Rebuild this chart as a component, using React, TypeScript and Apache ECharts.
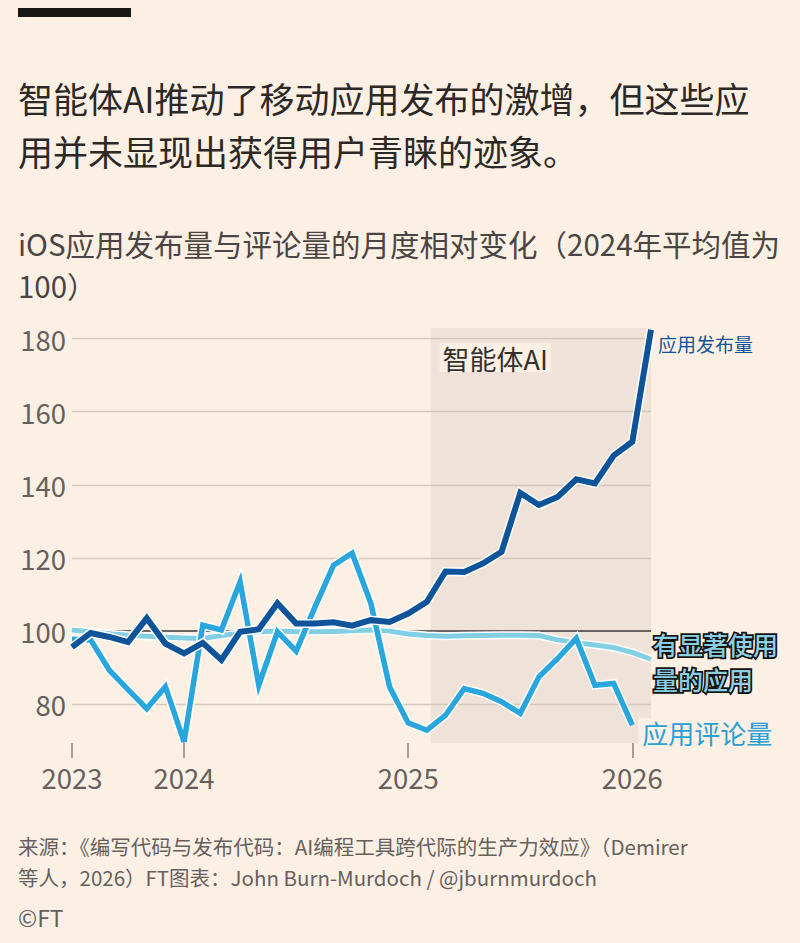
import React, { useEffect, useRef } from "react";
import * as echarts from "echarts";

// Monthly index values (2024 average = 100), July 2023 – February 2026
const months = [
  "2023-07", "2023-08", "2023-09", "2023-10", "2023-11", "2023-12",
  "2024-01", "2024-02", "2024-03", "2024-04", "2024-05", "2024-06",
  "2024-07", "2024-08", "2024-09", "2024-10", "2024-11", "2024-12",
  "2025-01", "2025-02", "2025-03", "2025-04", "2025-05", "2025-06",
  "2025-07", "2025-08", "2025-09", "2025-10", "2025-11", "2025-12",
  "2026-01", "2026-02",
];

// 应用发布量
const releases = [
  95.6, 99.5, 98.4, 97.0, 103.5, 96.6, 93.9, 96.8, 92.1, 99.8, 100.5, 107.6,
  102.1, 102.1, 102.4, 101.5, 103.0, 102.5, 104.8, 108.0, 116.3, 116.2, 118.5, 121.7,
  137.8, 134.5, 136.7, 141.5, 140.4, 148.0, 151.8, 182.4,
];

// 应用评论量
const reviews = [
  97.8, 97.6, 89.3, 84.0, 78.8, 84.8, 69.7, 101.6, 100.3, 113.5, 85.2, 99.8,
  94.5, 106.5, 118.0, 121.3, 107.6, 84.8, 74.9, 72.9, 77.0, 84.3, 83.0, 80.7,
  77.5, 87.5, 92.5, 98.0, 85.2, 85.7, 74.3,
];

// 有显著使用量的应用
const usage = [
  100.3, 99.8, 99.3, 98.9, 98.6, 98.3, 98.1, 98.0, 98.8, 99.4, 99.8, 100.0,
  99.8, 99.8, 99.9, 100.1, 100.3, 100.0, 99.2, 98.8, 98.6, 98.7, 98.8, 98.9,
  98.9, 98.8, 97.6, 96.8, 96.2, 95.5, 94.2, 92.3,
];

const gridValues = [80, 100, 120, 140, 160, 180];
const yearTickMonths = ["2023-07", "2024-01", "2025-01", "2026-01"];
// 智能体AI period, in months since July 2023
const agentSpan = [19.2, 31];

const BG = "#fcf0e5";
const FONT = "'Noto Sans CJK SC', 'Noto Sans', sans-serif";
const DARK = "#0f5499";
const MID = "#2aa6dc";
const PALE = "#82cfe4";

export default function App() {
  const ref = useRef<HTMLDivElement>(null);

  useEffect(() => {
    if (!ref.current) return;
    const chart = echarts.init(ref.current, undefined, { renderer: "svg" });

    const lineBase = {
      type: "line" as const,
      showSymbol: false,
      symbol: "none",
      silent: true,
      smooth: false,
    };

    chart.setOption({
      animation: false,
      backgroundColor: BG,
      textStyle: { fontFamily: FONT },
      grid: { left: 72, right: 149, top: 328, bottom: 200 },
      xAxis: [
        {
          type: "category",
          data: months,
          boundaryGap: false,
          axisLine: { show: false },
          axisTick: {
            show: true,
            length: 15,
            interval: (_i: number, v: string) => yearTickMonths.includes(v),
            lineStyle: { color: "#8a827c", width: 1.5 },
          },
          axisLabel: {
            interval: (_i: number, v: string) => yearTickMonths.includes(v),
            formatter: (v: string) => v.slice(0, 4),
            color: "#66605c",
            fontSize: 27.5,
            margin: 20,
            fontFamily: FONT,
          },
          splitLine: { show: false },
        },
        {
          // month-index axis over the same span, used for the shaded period
          type: "value",
          min: 0,
          max: months.length - 1,
          show: false,
          splitLine: { show: false },
        },
      ],
      yAxis: {
        type: "value",
        min: 69.4,
        max: 182.9,
        axisLine: { show: false },
        axisTick: { show: false },
        axisLabel: { show: false },
        splitLine: { show: false },
      },
      graphic: [
        { type: "rect", shape: { x: 18, y: 8, width: 113, height: 9 }, style: { fill: "#1a1817" } },
        {
          type: "text", x: 18, y: 97,
          style: { text: "智能体AI推动了移动应用发布的激增，但这些应", fill: "#2b2826", fontSize: 35, fontFamily: FONT, verticalAlign: "middle" },
        },
        {
          type: "text", x: 18, y: 150,
          style: { text: "用并未显现出获得用户青睐的迹象。", fill: "#2b2826", fontSize: 35, fontFamily: FONT, verticalAlign: "middle" },
        },
        {
          type: "text", x: 18, y: 243,
          style: { text: "iOS应用发布量与评论量的月度相对变化（2024年平均值为", fill: "#4a4542", fontSize: 29.5, fontFamily: FONT, verticalAlign: "middle" },
        },
        {
          type: "text", x: 18, y: 285,
          style: { text: "100）", fill: "#4a4542", fontSize: 29.5, fontFamily: FONT, verticalAlign: "middle" },
        },
        {
          type: "text", x: 18, y: 846,
          style: { text: "来源：《编写代码与发布代码：AI编程工具跨代际的生产力效应》（Demirer", fill: "#66605c", fontSize: 20.5, fontFamily: FONT, verticalAlign: "middle" },
        },
        {
          type: "text", x: 18, y: 877,
          style: { text: "等人，2026）FT图表：John Burn-Murdoch / @jburnmurdoch", fill: "#66605c", fontSize: 20.5, fontFamily: FONT, verticalAlign: "middle" },
        },
        {
          type: "text", x: 18, y: 917,
          style: { text: "©FT", fill: "#66605c", fontSize: 23, fontFamily: FONT, verticalAlign: "middle" },
        },
      ],
      series: [
        {
          ...lineBase,
          name: "agent-period",
          xAxisIndex: 1,
          data: [],
          z: 1,
          markArea: {
            silent: true,
            itemStyle: { color: "#eee2d9" },
            label: {
              show: true,
              position: "insideTopLeft",
              formatter: "智能体AI",
              color: "#33302e",
              fontSize: 27,
              fontFamily: FONT,
              backgroundColor: BG,
              padding: [2, 3, 0, 3],
              offset: [4, 10],
            },
            data: [[{ xAxis: agentSpan[0] }, { xAxis: agentSpan[1] }]],
          },
        },
        {
          ...lineBase,
          name: "usage-halo",
          data: usage,
          z: 10,
          lineStyle: { color: "#ffffff", width: 8, join: "miter" },
          markLine: {
            silent: true,
            symbol: ["none", "none"],
            label: {
              show: true,
              position: "start",
              distance: 6,
              formatter: (p: any) => String(p.value),
              color: "#66605c",
              fontSize: 27.5,
              fontFamily: FONT,
            },
            data: gridValues.map((v) => ({
              yAxis: v,
              lineStyle: {
                type: "solid",
                color: v === 100 ? "#3d3936" : "#d2c8bf",
                width: v === 100 ? 1.6 : 1.4,
              },
            })),
          },
        },
        {
          ...lineBase,
          name: "有显著使用量的应用",
          data: usage,
          z: 11,
          lineStyle: { color: PALE, width: 5, join: "miter" },
          endLabel: {
            show: true,
            formatter: "有显著使用\n量的应用",
            color: "#8ccfe2",
            fontSize: 25,
            lineHeight: 35.5,
            fontWeight: 500,
            fontFamily: FONT,
            textBorderColor: "#141210",
            textBorderWidth: 3.5,
            distance: 2,
            offset: [0, 2],
          },
        },
        {
          ...lineBase,
          name: "reviews-halo",
          data: reviews,
          z: 12,
          lineStyle: { color: "#ffffff", width: 8.5, join: "miter" },
        },
        {
          ...lineBase,
          name: "应用评论量",
          data: reviews,
          z: 13,
          lineStyle: { color: MID, width: 5.5, join: "miter" },
          endLabel: {
            show: true,
            formatter: "应用评论量",
            color: "#2a9fd4",
            fontSize: 26,
            fontFamily: FONT,
            backgroundColor: BG,
            padding: [1, 4, 1, 4],
            distance: 6,
            offset: [0, 7],
          },
        },
        {
          ...lineBase,
          name: "releases-halo",
          data: releases,
          z: 14,
          lineStyle: { color: "#ffffff", width: 9, join: "miter" },
        },
        {
          ...lineBase,
          name: "应用发布量",
          data: releases,
          z: 15,
          lineStyle: { color: DARK, width: 6, join: "miter" },
          endLabel: {
            show: true,
            formatter: "应用发布量",
            color: DARK,
            fontSize: 19,
            fontFamily: FONT,
            distance: 5,
            offset: [2, 14],
          },
        },
      ],
    });

    return () => chart.dispose();
  }, []);

  return (
    <div style={{ position: "fixed", left: 0, top: 0, width: 800, height: 943, background: BG }}>
      <div ref={ref} style={{ width: 800, height: 943 }} />
    </div>
  );
}
